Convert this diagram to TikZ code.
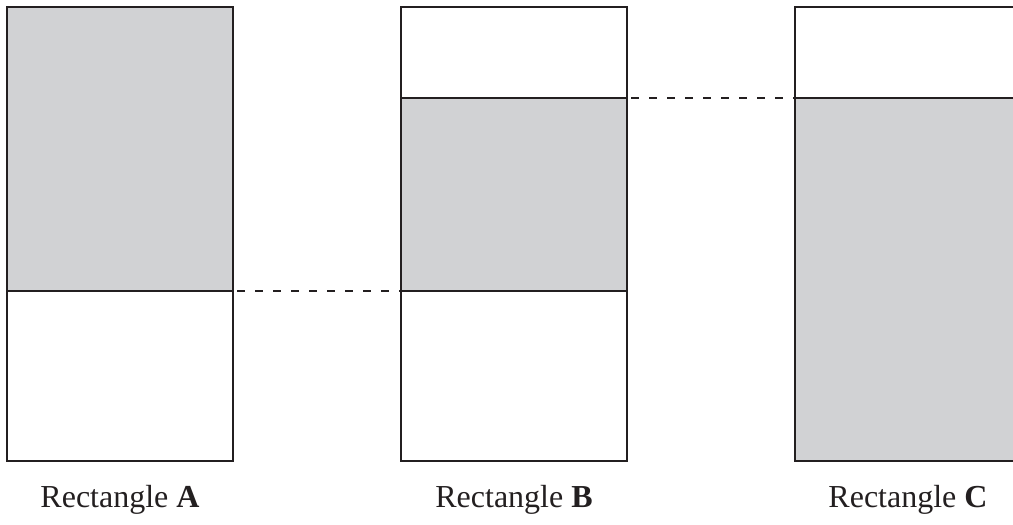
\documentclass[tikz,border=0pt]{standalone}
\usepackage{fontspec}
\setmainfont{Liberation Serif}
\usepackage{xcolor}
\definecolor{shade}{HTML}{D1D2D4}
\definecolor{ink}{HTML}{231F20}

\begin{document}
\begin{tikzpicture}[x=1pt,y=-1pt,line width=1.8pt,
    part/.style={rectangle,draw=ink,inner sep=0pt,outer sep=0pt,anchor=north west,minimum width=226pt},
    filled/.style={part,fill=shade},
    caption/.style={font=\fontsize{32}{38}\selectfont,text=ink}]

            \useasboundingbox (0,0) rectangle (1013,525);

            % Rectangle A
            \node[filled, minimum height=284pt] (aTop) at (7,7) {};
            \node[part, minimum height=170pt] (aBot) at (7,291) {};
            % Rectangle B
            \node[part, minimum height=91pt] (bTop) at (401,7) {};
            \node[filled, minimum height=193pt] (bMid) at (401,98) {};
            \node[part, minimum height=170pt] (bBot) at (401,291) {};
            % Rectangle C
            \node[part, minimum height=91pt] (cTop) at (795,7) {};
            \node[filled, minimum height=363pt] (cBot) at (795,98) {};

            \draw[ink, dash pattern=on 8pt off 10pt, dash phase=-4pt] (aTop.south east) to (bMid.south west);
            \draw[ink, dash pattern=on 8pt off 10pt, dash phase=-4pt] (bMid.north east) to (cBot.north west);

            \node[caption] (aLabel) at (120,500) {Rectangle \textbf{A}};
            \node[caption] (bLabel) at (514,500) {Rectangle \textbf{B}};
            \node[caption] (cLabel) at (908,500) {Rectangle \textbf{C}};

            ;
        \end{tikzpicture}
\end{document}
